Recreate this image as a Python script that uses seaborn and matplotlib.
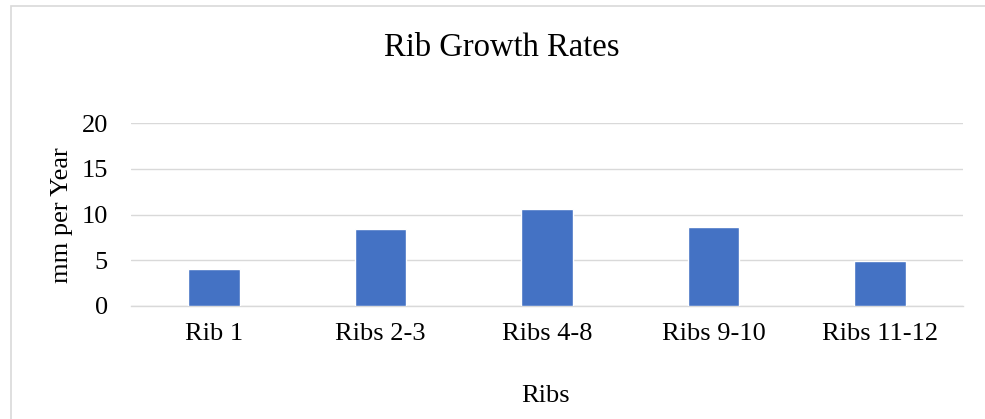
import matplotlib
matplotlib.use("Agg")
import matplotlib.pyplot as plt
import seaborn as sns
import pandas as pd
from matplotlib.patches import Rectangle

categories = ["Rib 1", "Ribs 2-3", "Ribs 4-8", "Ribs 9-10", "Ribs 11-12"]
values = [4.05, 8.43, 10.6, 8.7, 4.97]
yticks = [0, 5, 10, 15, 20]
title = "Rib Growth Rates"
xlabel = "Ribs"
ylabel = "mm per Year"

sns.set_theme(style="white")
plt.rcParams['font.family'] = ['Liberation Serif', 'DejaVu Serif']

W, H = 985, 419
fig = plt.figure(figsize=(W / 100, H / 100), dpi=100)
ax = fig.add_axes([131 / W, 1 - 306 / H, (963 - 131) / W, (306 - 123.3) / H])

df = pd.DataFrame({"cat": categories, "val": values})
sns.barplot(data=df, x="cat", y="val", color="#4472C4", saturation=1,
            width=0.31, ax=ax, zorder=3)

ax.set_ylim(0, 20)
ax.set_yticks(yticks)
ax.set_yticklabels([str(t) for t in yticks])
ax.grid(axis="y", color="#D9D9D9", linewidth=1.0, zorder=0)
ax.set_axisbelow(True)
for s in ["top", "right", "left"]:
    ax.spines[s].set_visible(False)
ax.spines["bottom"].set_color("#D9D9D9")
ax.spines["bottom"].set_linewidth(1.0)

ax.tick_params(axis="y", length=0, pad=16.6, labelsize=19, labelcolor="black")
ax.tick_params(axis="x", length=0, pad=12, labelsize=19, labelcolor="black")

ax.set_xlabel(xlabel, fontsize=19, color="black")
ax.xaxis.set_label_coords(546 / W, 1 - 402 / H, transform=fig.transFigure)
ax.xaxis.label.set_verticalalignment("baseline")

ax.set_ylabel(ylabel, fontsize=19, color="black")
ax.yaxis.set_label_coords(73 / W, 0.5 * ((1 - 306 / H) + (1 - 123.3 / H)),
                          transform=fig.transFigure)

fig.suptitle(title, x=501.7 / W, y=1 - 56 / H, va="baseline", fontsize=23.5,
             color="black")

border = Rectangle((10.5 / W, -0.5), 1.5, 1.5 - 6.5 / H, transform=fig.transFigure,
                   fill=False, edgecolor="#D9D9D9", linewidth=1.2)
fig.patches.append(border)

fig.savefig("out.png", dpi=100)
